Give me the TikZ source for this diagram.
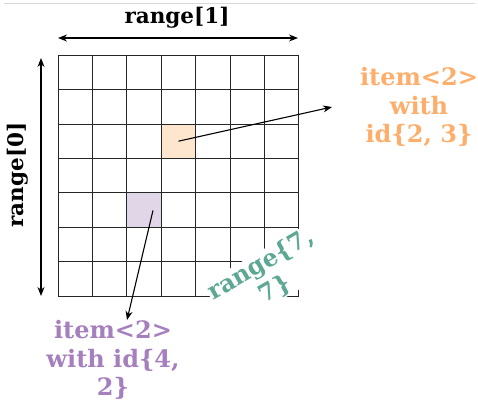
\documentclass[tikz,border=0pt]{standalone}
\usepackage{fontspec}
\setmainfont{DejaVu Serif}
\usepackage{tikz}
\usetikzlibrary{arrows.meta, calc, positioning}

\definecolor{orangetxt}{RGB}{253,174,107}
\definecolor{orangefill}{RGB}{254,230,206}
\definecolor{purpletxt}{RGB}{166,128,190}
\definecolor{purplefill}{RGB}{225,214,232}
\definecolor{tealtxt}{RGB}{92,168,148}

\begin{document}
\begin{tikzpicture}[
        x=1pt, y=1pt,
        cellbox/.style={
            rectangle, draw=none, inner sep=0pt,
            minimum size=34.4pt
        },
        gridline/.style={line width=0.8pt, black!85},
        axislabel/.style={
            font=\bfseries\fontsize{21.5}{26}\selectfont,
            inner sep=1pt
        },
        label/.style={
            font=\bfseries\fontsize{24}{28.5}\selectfont,
            align=center, inner sep=1pt
        },
        arrow/.style={-{Stealth[length=9pt, width=7pt]}, line width=1.1pt},
        dblarrow/.style={{Stealth[length=9pt, width=7pt]}-{Stealth[length=9pt, width=7pt]}, line width=1.1pt}
    ]
        \useasboundingbox (0,0) rectangle (478,400);
        \draw[black!15, line width=0.8pt] (4,397) -- (475,397);

        % highlighted cells
        \node[cellbox, fill=orangefill] (orangecell) at (178.4,258.8) {};
        \node[cellbox, fill=purplefill] (purplecell) at (144.0,189.6) {};

        % the 7x7 grid
        \begin{scope}[shift={(58,104)}]
            \draw[gridline] (0,0) grid[step=34.4] (240.9,240.9);
        \end{scope}

        % axes
        \coordinate (colstart) at (58,362);
        \coordinate (colend) at (298,362);
        \draw[dblarrow] (colstart) -- (colend);
        \node[axislabel] (collbl) at (177,382) {range[1]};

        \coordinate (rowstart) at (41,342);
        \coordinate (rowend) at (41,104);
        \draw[dblarrow] (rowstart) -- (rowend);
        \node[axislabel, rotate=90] (rowlbl) at (18,225) {range[0]};

        % labels
        \node[label, text=orangetxt] (orangelbl) at (419,293) {item<2>\\with\\id\{2, 3\}};
        \node[label, text=purpletxt] (purplelbl) at (113,40) {item<2>\\with id\{4,\\2\}};
        \node[label, text=tealtxt, fill=white, rotate=30] (rangelbl) at (268,123) {range\{7,\\7\}};

        % pointers
        \coordinate (orangehead) at (332,293);
        \coordinate (purplehead) at (127,80);
        \draw[arrow] (orangecell.center) -- (orangehead);
        \draw[arrow] ([xshift=9pt]purplecell.center) -- (purplehead);
    \end{tikzpicture}
\end{document}
